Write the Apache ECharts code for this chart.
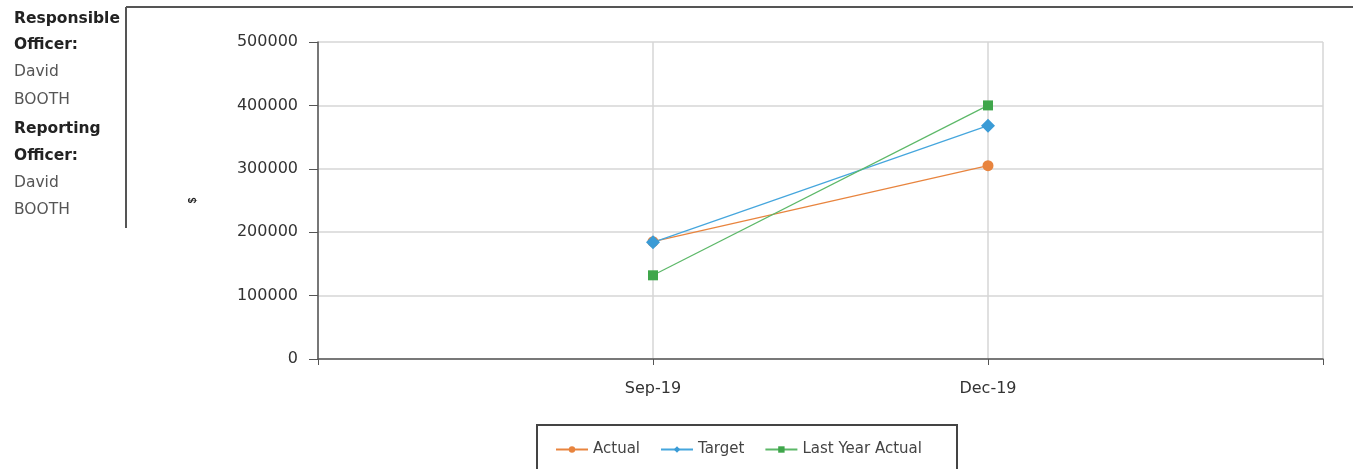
<!DOCTYPE html>
<html><head><meta charset="utf-8">
<script src="https://cdn.jsdelivr.net/npm/echarts@6/dist/echarts.min.js"></script>
<style>html,body{margin:0;padding:0;background:#fff}#c{width:1353px;height:469px}</style>
</head><body><div id="c"></div>
<script>
const categories = ['', 'Sep-19', 'Dec-19', ''];
const actual = [null, 185000, 305000, null];
const target = [null, 184000, 368000, null];
const lastYearActual = [null, 132000, 400000, null];
const yTicks = [0, 100000, 200000, 300000, 400000, 500000];
const sideText = [
  ['Responsible', true], ['Officer:', true], ['David', false], ['BOOTH', false],
  ['Reporting', true], ['Officer:', true], ['David', false], ['BOOTH', false]
];
const sideY = [20, 46, 73, 101, 130, 157, 184, 211];

const chart = echarts.init(document.getElementById('c'), null, {renderer: 'canvas'});
const font = 'DejaVu Sans, sans-serif';
const graphics = [
  {type: 'line', shape: {x1: 126, y1: 7, x2: 1353, y2: 7}, style: {stroke: '#555', lineWidth: 2}},
  {type: 'line', shape: {x1: 126, y1: 7, x2: 126, y2: 228}, style: {stroke: '#555', lineWidth: 2}},
  {type: 'rect', shape: {x: 537, y: 425, width: 420, height: 60}, style: {fill: 'none', stroke: '#444', lineWidth: 2}}
];
sideText.forEach((t, i) => {
  graphics.push({type: 'text', left: 14, top: sideY[i] - 9, style: {text: t[0], font: (t[1] ? 'bold ' : '') + '15.5px ' + font, fill: t[1] ? '#222' : '#555'}});
});
chart.setOption({
  animation: false,
  grid: {left: 318, right: 30, top: 42, bottom: 110},
  xAxis: {
    type: 'category', data: categories, boundaryGap: false,
    axisLine: {lineStyle: {color: '#555', width: 1.5}},
    axisTick: {show: true, length: 6, lineStyle: {color: '#555'}},
    axisLabel: {color: '#333', fontSize: 16, fontFamily: font, margin: 22, interval: 0},
    splitLine: {show: true, lineStyle: {color: '#d6d6d6', width: 1.5}}
  },
  yAxis: {
    type: 'value', min: 0, max: 500000, interval: 100000,
    name: '$', nameLocation: 'middle', nameGap: 120, nameRotate: 90,
    nameTextStyle: {fontSize: 10, color: '#222', fontWeight: 'bold'},
    axisLine: {show: true, lineStyle: {color: '#555', width: 1.5}},
    axisTick: {show: true, length: 9, lineStyle: {color: '#555'}},
    axisLabel: {color: '#333', fontSize: 16, fontFamily: font, margin: 20,
      formatter: v => yTicks.includes(v) ? String(v) : ''},
    splitLine: {show: true, lineStyle: {color: '#d6d6d6', width: 1.5}}
  },
  legend: {
    top: 437, left: 550, itemGap: 20, itemWidth: 32, itemHeight: 8,
    textStyle: {color: '#444', fontSize: 15, fontFamily: font},
    data: ['Actual', 'Target', 'Last Year Actual']
  },
  graphic: graphics,
  series: [
    {name: 'Actual', type: 'line', data: actual, symbol: 'circle', symbolSize: 11,
      color: '#e8843e', lineStyle: {width: 1.2, color: '#e8843e'}, itemStyle: {color: '#e8843e'}},
    {name: 'Target', type: 'line', data: target, symbol: 'diamond', symbolSize: 14,
      color: '#3a9bd6', lineStyle: {width: 1.2, color: '#45a6dd'}, itemStyle: {color: '#3a9bd6'}},
    {name: 'Last Year Actual', type: 'line', data: lastYearActual, symbol: 'rect', symbolSize: 10,
      color: '#3fa64b', lineStyle: {width: 1.2, color: '#5cb868'}, itemStyle: {color: '#3fa64b'}}
  ]
});
</script></body></html>
